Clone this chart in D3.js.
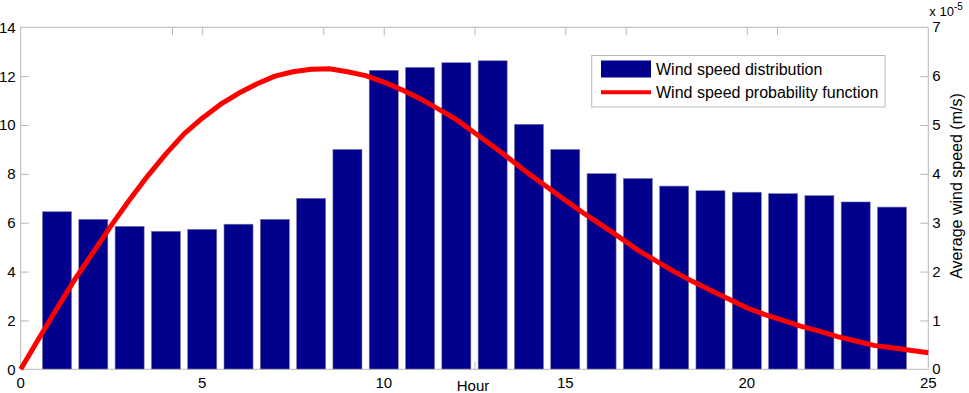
<!DOCTYPE html>
<html>
<head>
<meta charset="utf-8">
<script src="https://cdn.jsdelivr.net/npm/d3@7"></script>
<style>
  body { margin: 0; background: #fff; }
  svg { font-family: Arial, "Liberation Sans", sans-serif; }
</style>
</head>
<body>
<svg id="chart" width="969" height="393"></svg>
<script>
// --- data ---
const hours = d3.range(1, 25);
const windSpeed = [6.45, 6.14, 5.85, 5.65, 5.73, 5.94, 6.14, 7.0, 9.0, 12.24, 12.36, 12.55,
                   12.63, 10.03, 9.0, 8.01, 7.81, 7.5, 7.31, 7.25, 7.19, 7.11, 6.85, 6.64];

// probability curve, sampled every half hour (units of 1e-5)
const probHours = d3.range(0, 25.5, 0.5);
const probValues = [0, 0.63, 1.25, 1.85, 2.4, 2.95, 3.47, 3.96, 4.41, 4.82, 5.14, 5.42,
                    5.65, 5.84, 6.0, 6.09, 6.14, 6.15, 6.09, 6.01, 5.88, 5.72, 5.54, 5.33,
                    5.11, 4.84, 4.57, 4.29, 4.0, 3.73, 3.46, 3.2, 2.95, 2.7, 2.44, 2.22,
                    2.0, 1.8, 1.62, 1.44, 1.26, 1.12, 1.0, 0.88, 0.78, 0.67, 0.58, 0.49,
                    0.44, 0.39, 0.34];

const xTicks = [0, 5, 10, 15, 20, 25];
const xExtraTicks = [25 / 6, 50 / 6, 75 / 6, 100 / 6, 125 / 6]; // stray ticks from 2nd axes
const leftTicks = [0, 2, 4, 6, 8, 10, 12, 14];
const rightTicks = [0, 1, 2, 3, 4, 5, 6, 7];

// --- layout ---
const plot = {left: 20.7, right: 928.3, top: 27.3, bottom: 369.3};
const svg = d3.select("#chart");

const x = d3.scaleLinear().domain([0, 25]).range([plot.left, plot.right]);
const yL = d3.scaleLinear().domain([0, 14]).range([plot.bottom, plot.top]);
const yR = d3.scaleLinear().domain([0, 7]).range([plot.bottom, plot.top]);

const axisColor = "#b8b8b8";
const barW = (x(1) - x(0)) * 0.8;

// inward ticks on bottom (mostly hidden behind bars) and top
const allXTicks = xTicks.slice(1, -1).concat(xExtraTicks);
svg.append("g")
    .attr("transform", `translate(0,${plot.bottom})`)
    .call(d3.axisTop(x).tickValues(allXTicks).tickSize(8).tickFormat(""))
    .call(g => g.select(".domain").remove())
    .call(g => g.selectAll("line").attr("stroke", axisColor));
svg.append("g")
    .attr("transform", `translate(0,${plot.top})`)
    .call(d3.axisBottom(x).tickValues(allXTicks).tickSize(8).tickFormat(""))
    .call(g => g.select(".domain").remove())
    .call(g => g.selectAll("line").attr("stroke", axisColor));

// bars
svg.append("g")
  .selectAll("rect")
  .data(hours)
  .join("rect")
    .attr("x", (d) => x(d) - barW / 2)
    .attr("y", (d, i) => yL(windSpeed[i]))
    .attr("width", barW)
    .attr("height", (d, i) => yL(0) - yL(windSpeed[i]))
    .attr("fill", "#00008c")
    .attr("stroke", "#7a7aa8")
    .attr("stroke-width", 0.6);

// box
svg.append("rect")
    .attr("x", plot.left).attr("y", plot.top)
    .attr("width", plot.right - plot.left).attr("height", plot.bottom - plot.top)
    .attr("fill", "none").attr("stroke", axisColor);

// left axis
svg.append("g")
    .attr("transform", `translate(${plot.left},0)`)
    .call(d3.axisRight(yL).tickValues(leftTicks.slice(1, -1)).tickSize(8).tickFormat(""))
    .call(g => g.select(".domain").remove())
    .call(g => g.selectAll("line").attr("stroke", axisColor));
svg.append("g")
  .selectAll("text")
  .data(leftTicks)
  .join("text")
    .attr("x", plot.left - 5)
    .attr("y", (d) => yL(d))
    .attr("dy", "0.36em")
    .attr("text-anchor", "end")
    .attr("font-size", 15)
    .text((d) => d);

// right axis
svg.append("g")
    .attr("transform", `translate(${plot.right},0)`)
    .call(d3.axisLeft(yR).tickValues(rightTicks.slice(1, -1)).tickSize(8).tickFormat(""))
    .call(g => g.select(".domain").remove())
    .call(g => g.selectAll("line").attr("stroke", axisColor));
svg.append("g")
  .selectAll("text")
  .data(rightTicks)
  .join("text")
    .attr("x", plot.right + 4)
    .attr("y", (d) => yR(d))
    .attr("dy", "0.34em")
    .attr("font-size", 15)
    .text((d) => d);

const expo = svg.append("text").attr("x", plot.right + 1).attr("y", 16).attr("font-size", 13);
expo.append("tspan").text("x 10");
expo.append("tspan").attr("dy", -6).attr("font-size", 10).text("-5");

svg.append("text")
    .attr("transform", `translate(962,186) rotate(-90)`)
    .attr("text-anchor", "middle")
    .attr("font-size", 16)
    .text("Average wind speed (m/s)");

// bottom labels
svg.append("g")
  .selectAll("text")
  .data(xTicks)
  .join("text")
    .attr("x", (d) => x(d))
    .attr("y", 388)
    .attr("text-anchor", "middle")
    .attr("font-size", 15)
    .text((d) => d);

svg.append("text")
    .attr("x", 473).attr("y", 391)
    .attr("text-anchor", "middle")
    .attr("font-size", 15)
    .text("Hour");

// probability line
const line = d3.line()
    .x((d, i) => x(probHours[i]))
    .y((d) => yR(d));
svg.append("path")
    .datum(probValues)
    .attr("d", line)
    .attr("fill", "none")
    .attr("stroke", "#ff0000")
    .attr("stroke-width", 5)
    .attr("stroke-linejoin", "round");

// legend
const lg = svg.append("g");
lg.append("rect")
    .attr("x", 591.7).attr("y", 55.5).attr("width", 293.3).attr("height", 51.5)
    .attr("fill", "#fff").attr("stroke", axisColor);
lg.append("rect")
    .attr("x", 601).attr("y", 60.5).attr("width", 50).attr("height", 17)
    .attr("fill", "#00008c");
lg.append("line")
    .attr("x1", 601).attr("x2", 651).attr("y1", 92.3).attr("y2", 92.3)
    .attr("stroke", "#ff0000").attr("stroke-width", 4);
lg.append("text").attr("x", 656).attr("y", 75).attr("font-size", 16).text("Wind speed distribution");
lg.append("text").attr("x", 656).attr("y", 98).attr("font-size", 16).text("Wind speed probability function");
</script>
</body>
</html>
